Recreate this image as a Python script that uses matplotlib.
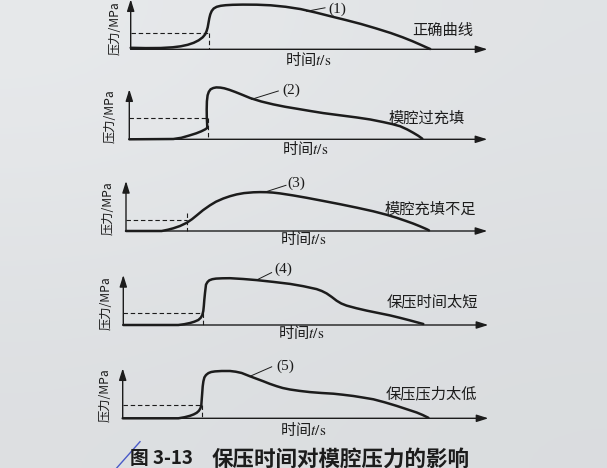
import numpy as np
import matplotlib
matplotlib.use("Agg")
import matplotlib.pyplot as plt
from matplotlib.colors import LinearSegmentedColormap

plt.rcParams['font.family'] = ['Noto Sans CJK SC', 'DejaVu Sans']
plt.rcParams['mathtext.fontset'] = 'stix'

# curves: t = time (px from y axis), p = pressure (px above x axis)
c1_t = [0, 15, 30, 42, 50, 57, 63, 68, 72, 74.5, 76, 77, 77.8, 78.6, 79.6, 81, 83, 86, 90, 95,
        102, 112, 126, 140, 155, 170, 185, 200, 215, 230, 245, 260, 272, 282, 290, 296, 299.5]
c1_p = [1.5, 1.2, 1.3, 2, 3, 4.5, 6.5, 9, 12, 15, 18.5, 22, 26.5, 31, 35, 38.3, 40.8, 42.5, 43.5, 44.1,
        44.5, 44.7, 44.6, 44, 42.5, 40.2, 36.8, 33, 29.3, 25.4, 21, 16.3, 12, 8, 4.5, 1.8, 0.3]

c2_t = [0, 44, 52, 60, 67, 72, 76, 78, 77.8, 77.5, 77.4, 77.6, 78.3, 79.5, 81.3, 84, 87, 91, 95, 100,
        106, 113, 121, 132, 144, 156, 168, 181, 194, 210, 227, 241, 254, 263, 271, 278, 284, 289, 293]
c2_p = [0, 0.3, 1.5, 3.8, 6, 8, 10, 11.5, 16, 22, 30, 38, 44, 47.5, 50, 51.3, 51.9, 51.7, 51, 49.5,
        47.3, 44.5, 41.2, 37.8, 34.9, 32.5, 30.5, 28.3, 26.2, 24.1, 21.9, 19.8, 17.2, 15.2, 13, 9.8, 6.5, 3.5, 0.6]

c3_t = [0, 35.7, 42, 47.3, 54, 60.7, 66, 70.7, 77, 84, 90, 97.3, 104, 110.7, 118, 127.3, 134, 140.7, 147,
        154, 167, 180.7, 197, 214, 231, 247.3, 260, 270.7, 280, 287.3, 294, 300.7, 303]
c3_p = [0, 0, 1.3, 2.7, 5, 8.2, 11.8, 15.6, 20.8, 25.7, 29.3, 32.5, 34.8, 36.6, 37.9, 38.7, 38.9, 38.8, 38.4,
        37.6, 35.6, 33.2, 30.1, 26.8, 23.3, 19.7, 16.4, 13.2, 10, 7.4, 4.7, 1.8, 0.6]

c4_t = [0, 55, 61, 66.7, 71, 75, 77.5, 79, 80, 80.5, 81, 81.7, 82.7, 84.2, 86, 89, 92.7, 99, 106.7, 120,
        133.3, 150, 166.7, 180, 193.3, 198.5, 203.3, 208.5, 213.3, 218, 223.3, 233, 243.3, 255, 266.7,
        277, 286.7, 294, 300]
c4_p = [0, 0, 0.8, 2, 3.3, 5, 7.3, 10, 14, 18.7, 25, 32, 40.4, 43, 44.7, 45.8, 46.4, 46.7, 46.8, 46,
        44.9, 43.1, 41.1, 38.8, 35.9, 34, 31.6, 28, 24.3, 21.5, 19.4, 16.8, 14.4, 12, 9.6,
        7.1, 4.6, 2.6, 1]

c5_t = [0, 55.7, 62, 67.3, 71, 74, 76.2, 77.7, 78.6, 79, 79.5, 80, 80.7, 81.7, 83.3, 85.7, 88.5, 92.3, 99,
        107.3, 113, 119, 127.3, 134, 140.7, 147, 154, 160, 167.3, 177, 187.3, 199, 210.7, 220, 230.7,
        240, 250.7, 262, 274, 284, 294, 300, 305.7]
c5_p = [0, 0, 1.1, 2.5, 3.9, 5.5, 7.5, 9.9, 13, 18.5, 25, 31.9, 37, 40.9, 43.3, 45.2, 46.3, 46.9, 47.3,
        47.3, 46.6, 45.3, 42, 39.5, 37, 34.5, 32.1, 30.3, 28.8, 27.4, 26.2, 25.3, 24.6, 23.6, 22.3,
        20.8, 19, 16, 12.4, 9.1, 5.8, 3.3, 0.5]

# dashed guide: switch-over time and pressure level
dash_t = [78.7, 79, 60.7, 80, 79]
dash_level = [16.8, 21.8, 10.7, 12, 12.9]
dash_top = [16.8, 21.8, 18.3, 12, 12.9]

curve_tags = ["(1)", "(2)", "(3)", "(4)", "(5)"]
curve_names = ["正确曲线", "模腔过充填", "模腔充填不足", "保压时间太短", "保压压力太低"]
xlabel = "时间$t/\\mathrm{s}$"
ylabel = "压力/MPa"
caption_no = "图 3-13"
caption = "保压时间对模腔压力的影响"

curves_t = [c1_t, c2_t, c3_t, c4_t, c5_t]
curves_p = [c1_p, c2_p, c3_p, c4_p, c5_p]

# layout (pixels in the 607x468 picture)
W, H = 607, 468
origins = [(130.7, 49.3), (129.3, 139.3), (126, 231), (123.3, 325), (122.7, 418.3)]
x_end = [356.7, 358, 361.3, 365, 365.7]
y_top = 50
tag_pos = [(206.7, 40.5), (162.3, 49.4), (170.7, 47.3), (160, 55.7), (162.3, 52)]
leaders = [((176, 38), (194.3, 41.5)), ((122.3, 40), (149, 48.3)), ((140.7, 39.5), (160, 45.7)),
           ((133.3, 45), (148.3, 52.4)), ((127.3, 42), (149, 51.5))]
name_pos = [(312.5, 19), (297.3, 21), (304, 21.8), (309, 23), (309, 24.2)]
xlab_pos = [(177.7, -10.3), (175.7, -9.3), (177.3, -8.3), (178.3, -8.2), (180.7, -11.9)]
ylab_pos = [(-15.2, 21.5), (-18.7, 23), (-17.7, 22.7), (-17.3, 22.3), (-17.7, 23.3)]

ink = "#1c1c1c"

fig = plt.figure(figsize=(W / 100, H / 100), dpi=100)
fig.patch.set_facecolor("#dcdee0")

# paper background, lighter at top left
bg = fig.add_axes([0, 0, 1, 1], zorder=-5)
paper = LinearSegmentedColormap.from_list("paper", ["#c4c7ca", "#eceef0"])
bg.imshow([[0.88, 0.72], [0.62, 0.55]], cmap=paper, vmin=0, vmax=1,
          interpolation="bicubic", aspect="auto", extent=[0, 1, 0, 1])
bg.axis("off")

L, R, B, T = -40, 390, -25, 75
for i in range(5):
    x0, yb = origins[i]
    ax = fig.add_axes([(x0 + L) / W, (H - (yb - B)) / H, (R - L) / W, (T - B) / H])
    ax.set_xlim(L, R)
    ax.set_ylim(B, T)
    ax.axis("off")
    ax.patch.set_alpha(0)

    arrow = dict(arrowstyle="-|>,head_length=0.7,head_width=0.22", lw=1.0, color=ink,
                 shrinkA=0, shrinkB=0, mutation_scale=10)
    ax.annotate("", xy=(x_end[i], 0), xytext=(0, 0), arrowprops=arrow, annotation_clip=False)
    ax.annotate("", xy=(0, y_top), xytext=(0, 0), arrowprops=arrow, annotation_clip=False)

    ax.plot([0, dash_t[i]], [dash_level[i], dash_level[i]], color=ink, lw=0.8,
            dashes=(4, 2.5), clip_on=False)
    ax.plot([dash_t[i], dash_t[i]], [dash_top[i], 0], color=ink, lw=0.8,
            dashes=(4, 2.5), clip_on=False)

    ax.plot(curves_t[i], curves_p[i], color=ink, lw=1.8, solid_joinstyle="round",
            solid_capstyle="round", clip_on=False)

    (a, b), (c, d) = leaders[i]
    ax.plot([a, c], [b, d], color=ink, lw=0.7, clip_on=False)
    ax.text(*tag_pos[i], curve_tags[i], family=["Liberation Serif"], fontsize=11,
            ha="center", va="center", color=ink)
    ax.text(*name_pos[i], curve_names[i], fontsize=11, ha="center", va="center", color=ink)
    ax.text(*xlab_pos[i], xlabel, fontsize=11, ha="center", va="center", color=ink)
    ax.text(*ylab_pos[i], ylabel, fontsize=8.8, ha="center", va="center", rotation=90, color=ink)

fig.text(130 / W, 1 - 459 / H, caption_no, fontsize=13.5, ha="left", va="center",
         color=ink, weight="bold")
fig.text(212 / W, 1 - 459 / H, caption, fontsize=15.5, ha="left", va="center",
         color=ink, weight="bold")

# pen mark in the lower left corner of the scan
bg.plot([116.7 / W, 140 / W], [0.0, 1 - 441.7 / H], color="#4a5ac8", lw=1.0)
bg.set_xlim(0, 1)
bg.set_ylim(0, 1)

fig.savefig("out.png", dpi=100, facecolor=fig.get_facecolor())
